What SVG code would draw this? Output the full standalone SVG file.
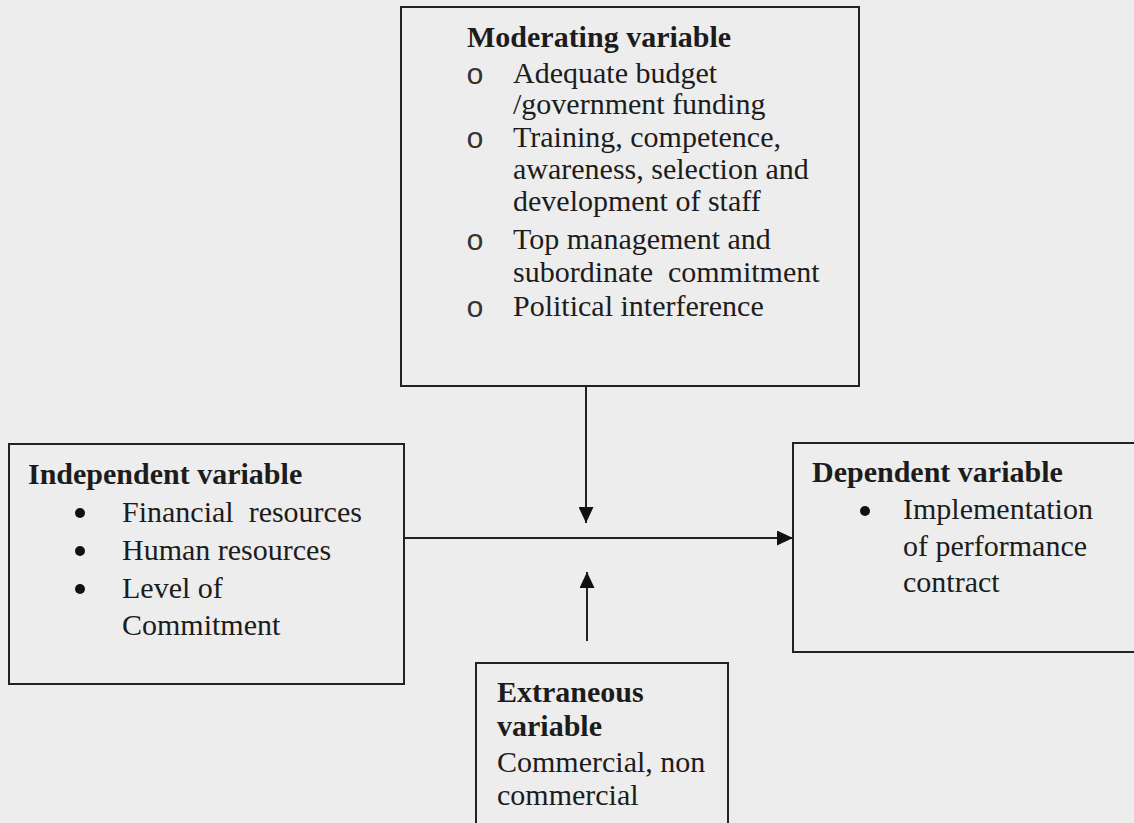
<svg xmlns="http://www.w3.org/2000/svg" width="1134" height="823" viewBox="0 0 1134 823">
<style>
.box{fill:none;stroke:#222;stroke-width:2}
.t{font-family:"Liberation Serif","Times New Roman",serif;font-size:30px;fill:#1c1c1c}
.b{font-weight:bold}
.ln{stroke:#222;stroke-width:2;fill:none}
.ob{font-family:"Liberation Mono","Courier New",monospace;font-size:30px;fill:#333}
.dot{fill:#111}
</style>
<defs>
<marker id="ah2" viewBox="0 0 16 15" refX="16" refY="7.5" markerWidth="16" markerHeight="15" markerUnits="userSpaceOnUse" orient="auto">
<path d="M0,0 L16,7.5 L0,15 Z" fill="#111"/>
</marker>
</defs>
<rect width="1134" height="823" fill="#ededed"/>
<g id="connectors">
<line class="ln" x1="586" y1="386" x2="586" y2="523" marker-end="url(#ah2)"/>
<line class="ln" x1="404" y1="538" x2="793" y2="538" marker-end="url(#ah2)"/>
<line class="ln" x1="587" y1="641" x2="587" y2="572" marker-end="url(#ah2)"/>
</g>
<g id="moderating">
<rect class="box" x="401" y="7" width="458" height="379"/>
<text class="t b" x="467" y="47">Moderating variable</text>
<text class="ob" x="466" y="84">o</text>
<text class="t" x="513" y="83">Adequate budget</text>
<text class="t" x="513" y="114">/government funding</text>
<text class="ob" x="466" y="148">o</text>
<text class="t" x="513" y="147">Training, competence,</text>
<text class="t" x="513" y="179">awareness, selection and</text>
<text class="t" x="513" y="211">development of staff</text>
<text class="ob" x="466" y="250">o</text>
<text class="t" x="513" y="249">Top management and</text>
<text class="t" x="513" y="282" xml:space="preserve">subordinate  commitment</text>
<text class="ob" x="466" y="317">o</text>
<text class="t" x="513" y="316">Political interference</text>
</g>
<g id="independent">
<rect class="box" x="9" y="444" width="395" height="240"/>
<text class="t b" x="28" y="484">Independent variable</text>
<circle class="dot" cx="80" cy="513" r="5"/>
<text class="t" x="122" y="522" xml:space="preserve">Financial  resources</text>
<circle class="dot" cx="80" cy="551" r="5"/>
<text class="t" x="122" y="560">Human resources</text>
<circle class="dot" cx="80" cy="589" r="5"/>
<text class="t" x="122" y="598">Level of</text>
<text class="t" x="122" y="635">Commitment</text>
</g>
<g id="dependent">
<rect class="box" x="793" y="443" width="360" height="209"/>
<text class="t b" x="812" y="482">Dependent variable</text>
<circle class="dot" cx="865" cy="511" r="5"/>
<text class="t" x="903" y="519">Implementation</text>
<text class="t" x="903" y="556">of performance</text>
<text class="t" x="903" y="592">contract</text>
</g>
<g id="extraneous">
<rect class="box" x="476" y="663" width="252" height="180"/>
<text class="t b" x="497" y="702">Extraneous</text>
<text class="t b" x="497" y="736">variable</text>
<text class="t" x="497" y="772">Commercial, non</text>
<text class="t" x="497" y="805">commercial</text>
</g>
</svg>
